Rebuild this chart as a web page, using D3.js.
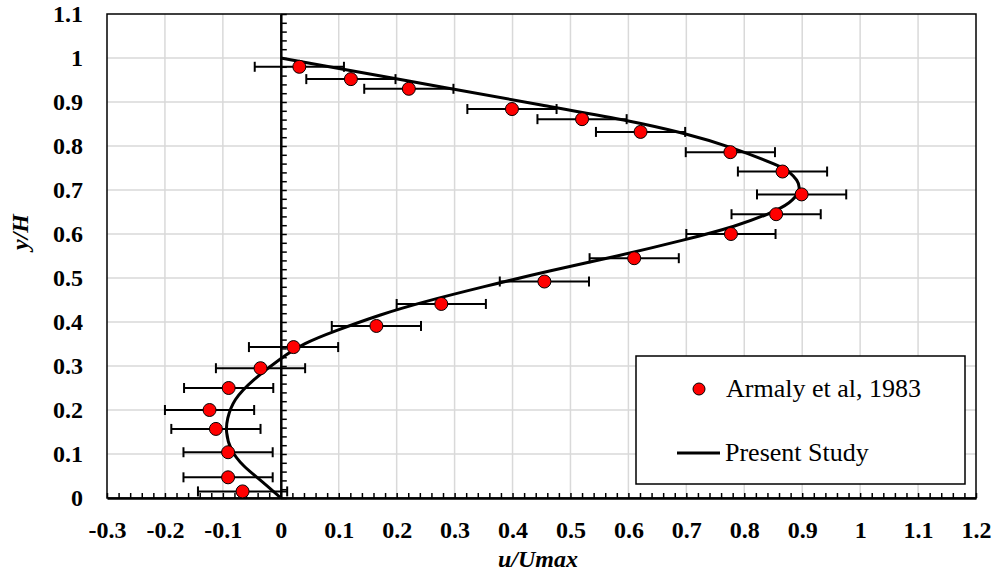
<!DOCTYPE html>
<html>
<head>
<meta charset="utf-8">
<script src="https://cdn.jsdelivr.net/npm/d3@7"></script>
<style>
	body { margin: 0; background: #fff; }
	text { font-family: "Liberation Serif", "Times New Roman", serif; }
</style>
</head>
<body>
<script>
// measured profile (Armaly et al, 1983): u/Umax at each y/H, with error half-width
let expY = [0.980, 0.952, 0.930, 0.884, 0.861, 0.832, 0.786, 0.742, 0.690, 0.645, 0.600, 0.545,
	0.492, 0.441, 0.391, 0.343, 0.295, 0.250, 0.200, 0.157, 0.104, 0.047, 0.015];
let expU = [0.032, 0.121, 0.221, 0.399, 0.520, 0.621, 0.776, 0.866, 0.899, 0.855, 0.777, 0.610,
	0.455, 0.277, 0.165, 0.022, -0.035, -0.090, -0.123, -0.112, -0.091, -0.091, -0.066];
let expErr = [0.077, 0.077, 0.077, 0.077, 0.077, 0.077, 0.077, 0.077, 0.077, 0.077, 0.077, 0.077,
	0.077, 0.077, 0.077, 0.077, 0.077, 0.077, 0.077, 0.077, 0.077, 0.077, 0.077];

// present study curve
let curveY = [0, 0.042, 0.072, 0.110, 0.152, 0.178, 0.224, 0.269, 0.318, 0.352, 0.379, 0.418,
	0.445, 0.480, 0.517, 0.550, 0.587, 0.618, 0.647, 0.670, 0.700, 0.723, 0.742, 0.753, 0.799,
	0.829, 0.859, 0.893, 0.929, 1.0];
let curveU = [0, -0.036, -0.065, -0.088, -0.095, -0.093, -0.082, -0.048, 0, 0.040, 0.092, 0.174,
	0.244, 0.349, 0.466, 0.582, 0.699, 0.787, 0.845, 0.880, 0.898, 0.892, 0.877, 0.865, 0.775,
	0.698, 0.597, 0.450, 0.300, 0];

// ticks
let xTicks = [-0.3, -0.2, -0.1, 0, 0.1, 0.2, 0.3, 0.4, 0.5, 0.6, 0.7, 0.8, 0.9, 1, 1.1, 1.2];
let xTickLabels = ["-0.3", "-0.2", "-0.1", "0", "0.1", "0.2", "0.3", "0.4", "0.5", "0.6", "0.7", "0.8", "0.9", "1", "1.1", "1.2"];
let yTicks = [0, 0.1, 0.2, 0.3, 0.4, 0.5, 0.6, 0.7, 0.8, 0.9, 1, 1.1];
let yTickLabels = ["0", "0.1", "0.2", "0.3", "0.4", "0.5", "0.6", "0.7", "0.8", "0.9", "1", "1.1"];

let svg = d3.select("body").append("svg")
	.attr("width", 992)
	.attr("height", 573);

let x = d3.scaleLinear().domain([-0.3, 1.2]).range([107, 976]);
let y = d3.scaleLinear().domain([0, 1.1]).range([498, 14]);

// minor ticks every 0.02
let xMinor = d3.range(-15, 61).map(i => +(i * 0.02).toFixed(2));
let yMinor = d3.range(0, 56).map(i => +(i * 0.02).toFixed(2));

//gridlines
let grid = svg.append("g").attr("stroke", "#d9d9d9").attr("stroke-width", 1.5);
grid.selectAll(".vg")
	.data(xTicks.slice(1, -1))
	.enter().append("line")
	.attr("x1", d => x(d)).attr("x2", d => x(d))
	.attr("y1", y(0)).attr("y2", y(1.1));
grid.selectAll(".hg")
	.data(yTicks.slice(1, -1))
	.enter().append("line")
	.attr("x1", x(-0.3)).attr("x2", x(1.2))
	.attr("y1", d => y(d)).attr("y2", d => y(d));

//frame
svg.append("rect")
	.attr("x", x(-0.3)).attr("y", y(1.1))
	.attr("width", x(1.2) - x(-0.3)).attr("height", y(0) - y(1.1))
	.attr("fill", "none").attr("stroke", "#000").attr("stroke-width", 1.5);

//bottom axis: minor ticks pointing up
let xAxis = svg.append("g")
	.attr("transform", `translate(0, ${y(0)})`)
	.call(d3.axisTop(x).tickValues(xMinor).tickSize(5).tickSizeOuter(0).tickFormat(""));
xAxis.select(".domain").attr("stroke-width", 2.5);
xAxis.selectAll(".tick line").attr("stroke-width", 1.5);

//x tick labels
let xLab = svg.append("g")
	.attr("transform", `translate(0, ${y(0)})`)
	.call(d3.axisBottom(x).tickValues(xTicks).tickSize(0)
		.tickFormat((d, i) => xTickLabels[i]));
xLab.select(".domain").remove();
xLab.selectAll("text")
	.attr("y", 40).attr("dy", null)
	.attr("font-family", "Liberation Serif, Times New Roman, serif")
	.attr("font-weight", "bold").attr("font-size", 24).attr("fill", "#000");

//y tick labels
let yLab = svg.append("g")
	.attr("transform", `translate(${x(-0.3)}, 0)`)
	.call(d3.axisLeft(y).tickValues(yTicks).tickSize(0).tickPadding(24)
		.tickFormat((d, i) => yTickLabels[i]));
yLab.select(".domain").remove();
yLab.selectAll("text")
	.attr("dy", "0.33em")
	.attr("font-family", "Liberation Serif, Times New Roman, serif")
	.attr("font-weight", "bold").attr("font-size", 24).attr("fill", "#000");

//vertical axis at u = 0
let yAxis = svg.append("g")
	.attr("transform", `translate(${x(0)}, 0)`)
	.call(d3.axisRight(y).tickValues(yMinor).tickSize(6).tickSizeOuter(0).tickFormat(""));
yAxis.select(".domain").attr("stroke-width", 2.5);
yAxis.selectAll(".tick line").attr("stroke-width", 1.5);

//legend box
let legend = svg.append("g");
legend.append("rect")
	.attr("x", 636).attr("y", 356).attr("width", 329).attr("height", 128)
	.attr("fill", "#fff").attr("stroke", "#000").attr("stroke-width", 1.5);
legend.append("circle")
	.attr("cx", 699).attr("cy", 389).attr("r", 6)
	.attr("fill", "#ff0000").attr("stroke", "#000").attr("stroke-width", 1);
legend.append("text")
	.attr("x", 726).attr("y", 397).attr("font-size", 26).attr("fill", "#000")
	.text("Armaly et al, 1983");
legend.append("line")
	.attr("x1", 677).attr("x2", 720).attr("y1", 453).attr("y2", 453)
	.attr("stroke", "#000").attr("stroke-width", 3);
legend.append("text")
	.attr("x", 725).attr("y", 461).attr("font-size", 26).attr("fill", "#000")
	.text("Present Study");

let pts = expY.map((d, i) => ({ y: d, u: expU[i], e: expErr[i] }));

//error bars
let eb = svg.append("g").attr("stroke", "#000").attr("stroke-width", 2);
eb.selectAll(".bar")
	.data(pts).enter().append("line")
	.attr("x1", d => x(d.u - d.e)).attr("x2", d => x(d.u + d.e))
	.attr("y1", d => y(d.y)).attr("y2", d => y(d.y));
eb.selectAll(".capL")
	.data(pts).enter().append("line")
	.attr("x1", d => x(d.u - d.e)).attr("x2", d => x(d.u - d.e))
	.attr("y1", d => y(d.y) - 5).attr("y2", d => y(d.y) + 5);
eb.selectAll(".capR")
	.data(pts).enter().append("line")
	.attr("x1", d => x(d.u + d.e)).attr("x2", d => x(d.u + d.e))
	.attr("y1", d => y(d.y) - 5).attr("y2", d => y(d.y) + 5);

//present study curve
let line = d3.line()
	.x(d => x(d[0]))
	.y(d => y(d[1]))
	.curve(d3.curveBasis);
svg.append("path")
	.datum(curveU.map((d, i) => [d, curveY[i]]))
	.attr("d", line)
	.attr("fill", "none").attr("stroke", "#000").attr("stroke-width", 3);

//markers
svg.append("g").selectAll("circle")
	.data(pts).enter().append("circle")
	.attr("cx", d => x(d.u)).attr("cy", d => y(d.y)).attr("r", 6.5)
	.attr("fill", "#ff0000").attr("stroke", "#000").attr("stroke-width", 1);

//axis titles
svg.append("text")
	.attr("x", 538).attr("y", 567)
	.attr("text-anchor", "middle")
	.attr("font-size", 24).attr("font-weight", "bold").attr("font-style", "italic")
	.text("u/Umax");
svg.append("text")
	.attr("transform", "translate(28, 232) rotate(-90)")
	.attr("text-anchor", "middle")
	.attr("font-size", 24).attr("font-weight", "bold").attr("font-style", "italic")
	.text("y/H");
</script>
</body>
</html>
